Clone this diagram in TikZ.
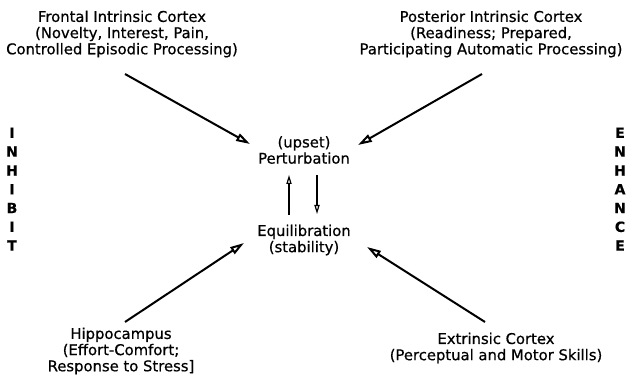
\documentclass[tikz,border=0pt]{standalone}
\usepackage{fontspec}
\setmainfont{DejaVu Sans}[FakeBold=0.6]
\usetikzlibrary{arrows.meta}
\begin{document}
\begin{tikzpicture}[x=0.5pt, y=-0.5pt, font=\fontsize{7.4}{8.1}\selectfont,
  area/.style={align=center, inner sep=0pt},
  side/.style={inner sep=0pt, font=\fontsize{7}{8}\selectfont\bfseries},
  feed/.style={line width=1pt, -{Triangle[open, length=7pt, width=4pt]}},
  swing/.style={line width=0.6pt, -{Triangle[open, length=4.5pt, width=2.6pt]}}]
  \useasboundingbox (0,0) rectangle (626,384);

  % Define arrow end coordinates
  \coordinate (frontal-tail) at (125,74);
  \coordinate (frontal-tip) at (250,144);
  \coordinate (posterior-tail) at (482,74);
  \coordinate (posterior-tip) at (358,145);
  \coordinate (hippo-tail) at (125,322);
  \coordinate (hippo-tip) at (244,243);
  \coordinate (extrinsic-tail) at (485,322);
  \coordinate (extrinsic-tip) at (367,247);
  \coordinate (up-tail) at (289,215);
  \coordinate (up-tip) at (289,175);
  \coordinate (down-tail) at (317,175);
  \coordinate (down-tip) at (317,214);

  % Source labels
  \node[area] (frontal) at (122,34) {Frontal Intrinsic Cortex\\(Novelty, Interest, Pain,\\Controlled Episodic Processing)};
  \node[area] (posterior) at (491,34) {Posterior Intrinsic Cortex\\(Readiness; Prepared,\\Participating Automatic Processing)};
  \node[area] (hippo) at (121,351) {Hippocampus\\(Effort-Comfort;\\Response to Stress]};
  \node[area] (extrinsic) at (496,348) {Extrinsic Cortex\\(Perceptual and Motor Skills)};

  % Central states
  \node[area] (perturb) at (304,150) {(upset)\\Perturbation};
  \node[area] (equil) at (304,240) {Equilibration\\(stability)};

  % Side captions
  \foreach \ch [count=\i] in {I,N,H,I,B,I,T}
    \node[side] (inhibit-\i) at (12,{114+18.8*\i}) {\ch};
  \foreach \ch [count=\i] in {E,N,H,A,N,C,E}
    \node[side] (enhance-\i) at (620,{114+18.8*\i}) {\ch};

  % Arrows into the centre
  \draw[feed] (frontal-tail) -- (frontal-tip);
  \draw[feed] (posterior-tail) -- (posterior-tip);
  \draw[feed] (hippo-tail) -- (hippo-tip);
  \draw[feed] (extrinsic-tail) -- (extrinsic-tip);

  % Arrows between the two states
  \draw[swing] (up-tail) -- (up-tip);
  \draw[swing] (down-tail) -- (down-tip);

\end{tikzpicture}
\end{document}
